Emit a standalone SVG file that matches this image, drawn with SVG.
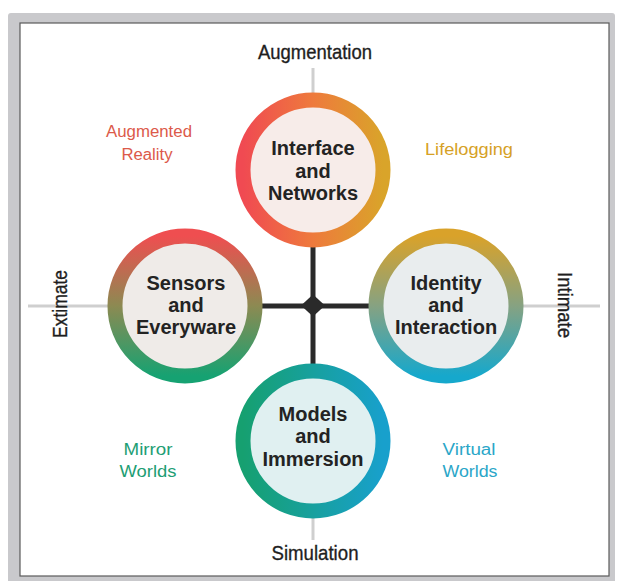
<svg xmlns="http://www.w3.org/2000/svg" width="619" height="581" viewBox="0 0 619 581">
<style>
.node{font-family:"Liberation Sans",Arial,sans-serif;font-weight:bold;font-size:20px;fill:#232323;text-anchor:middle}
.axis{font-family:"Liberation Sans",Arial,sans-serif;font-size:21px;fill:#1e1e1e;text-anchor:middle;stroke:#1e1e1e;stroke-width:0.35}
.lab{font-family:"Liberation Sans",Arial,sans-serif;font-size:16px;text-anchor:middle}
.ring{stroke-width:15}
.gray{stroke:#cfcfcf;stroke-width:3;fill:none}
.dark{stroke:#2a2a2a;stroke-width:5;fill:none}
</style>
<defs>
<linearGradient id="gTop" x1="0" y1="0" x2="1" y2="0">
<stop offset="0" stop-color="#f04a52"/><stop offset="0.5" stop-color="#ee7a3c"/><stop offset="1" stop-color="#d9a42a"/>
</linearGradient>
<linearGradient id="gLeft" x1="0" y1="0" x2="0" y2="1">
<stop offset="0" stop-color="#ef4e50"/><stop offset="0.5" stop-color="#8c8a52"/><stop offset="1" stop-color="#16a272"/>
</linearGradient>
<linearGradient id="gRight" x1="0" y1="0" x2="0" y2="1">
<stop offset="0" stop-color="#d9a22a"/><stop offset="0.5" stop-color="#86a282"/><stop offset="1" stop-color="#16a8cc"/>
</linearGradient>
<linearGradient id="gBottom" x1="0" y1="0" x2="1" y2="0">
<stop offset="0" stop-color="#16a070"/><stop offset="1" stop-color="#18a0cc"/>
</linearGradient>
</defs>
<rect x="8" y="13" width="607" height="572" rx="3" fill="#c9c9cc"/>
<rect x="20" y="23" width="589" height="553" fill="#ffffff" stroke="#5a5a5a" stroke-width="1.2"/>
<g id="connectors">
<line class="gray" x1="28" y1="306" x2="600" y2="306"/>
<line class="gray" x1="313" y1="68" x2="313" y2="540"/>
<line class="dark" x1="185" y1="306" x2="446" y2="306"/>
<line class="dark" x1="313" y1="170" x2="313" y2="441"/>
<polygon points="313,294.5 325,305.5 313,316.5 301,305.5" fill="#2a2a2a"/>
</g>
<g id="node-top">
<circle cx="313" cy="170" r="70" fill="#f7ece9" stroke="url(#gTop)" class="ring"/>
<text class="node" x="313" y="155">Interface</text>
<text class="node" x="313" y="178">and</text>
<text class="node" x="313" y="200">Networks</text>
</g>
<g id="node-left">
<circle cx="185" cy="306" r="70" fill="#efebe8" stroke="url(#gLeft)" class="ring"/>
<text class="node" x="186" y="290">Sensors</text>
<text class="node" x="186" y="312">and</text>
<text class="node" x="186" y="334">Everyware</text>
</g>
<g id="node-right">
<circle cx="446" cy="306" r="70" fill="#e9edee" stroke="url(#gRight)" class="ring"/>
<text class="node" x="446" y="290">Identity</text>
<text class="node" x="446" y="312">and</text>
<text class="node" x="446" y="334">Interaction</text>
</g>
<g id="node-bottom">
<circle cx="313" cy="441" r="70" fill="#e0f0f1" stroke="url(#gBottom)" class="ring"/>
<text class="node" x="313" y="421">Models</text>
<text class="node" x="313" y="443">and</text>
<text class="node" x="313" y="466">Immersion</text>
</g>
<g id="axis-labels">
<text class="axis" x="315" y="59" textLength="114" lengthAdjust="spacingAndGlyphs">Augmentation</text>
<text class="axis" x="315" y="560" textLength="87" lengthAdjust="spacingAndGlyphs">Simulation</text>
<text class="axis" transform="translate(67,304) rotate(-90)" textLength="68" lengthAdjust="spacingAndGlyphs">Extimate</text>
<text class="axis" transform="translate(558,305) rotate(90)" textLength="66" lengthAdjust="spacingAndGlyphs">Intimate</text>
</g>
<g id="quadrant-labels">
<text class="lab" fill="#dc5a4a" x="149" y="137" textLength="86" lengthAdjust="spacingAndGlyphs">Augmented</text>
<text class="lab" fill="#dc5a4a" x="147" y="160" textLength="51" lengthAdjust="spacingAndGlyphs">Reality</text>
<text class="lab" fill="#d6a126" x="469" y="155" textLength="88" lengthAdjust="spacingAndGlyphs">Lifelogging</text>
<text class="lab" fill="#1d9e74" x="148" y="455" textLength="49" lengthAdjust="spacingAndGlyphs">Mirror</text>
<text class="lab" fill="#1d9e74" x="148" y="477" textLength="57" lengthAdjust="spacingAndGlyphs">Worlds</text>
<text class="lab" fill="#2aa6c8" x="469" y="455" textLength="53" lengthAdjust="spacingAndGlyphs">Virtual</text>
<text class="lab" fill="#2aa6c8" x="470" y="477" textLength="55" lengthAdjust="spacingAndGlyphs">Worlds</text>
</g>
</svg>
